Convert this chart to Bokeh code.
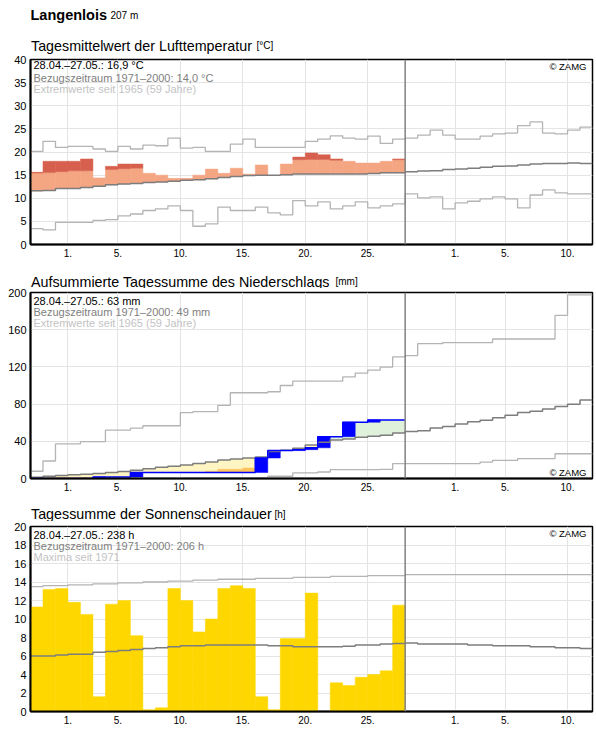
import numpy as np
from bokeh.plotting import figure
from bokeh.layouts import column
from bokeh.models import Range1d, FixedTicker, Span, Label
from bokeh.embed import file_html
from bokeh.resources import INLINE

FONT = "Liberation Sans"
WIDTH = 596
LEFT, RIGHT = 30, 4          # plot borders; frames span x = 30 .. 592

# x axis: day index 0 = 28.04., 30 = 28.05. (start of the open period), 45 = 12.06.
n_days = 45
today = 30
tick_days = [3, 7, 12, 17, 22, 27, 34, 38, 43]
tick_labels = ["1.", "5.", "10.", "15.", "20.", "25.", "1.", "5.", "10."]

# ---- air temperature, daily mean [°C] ----
temp = [15.6, 18.0, 18.0, 18.0, 18.5, 14.4, 16.9, 17.4, 17.4, 15.4,
        15.0, 14.3, 14.3, 15.0, 16.3, 15.4, 16.5, 15.2, 17.2, 15.0,
        17.4, 18.9, 19.8, 19.4, 18.5, 18.0, 17.6, 17.6, 18.0, 18.5]
temp_clim = [11.6, 11.7, 12.1, 12.1, 12.3, 12.6, 12.9, 13.1, 13.2, 13.4,
             13.5, 13.7, 13.9, 14.0, 14.2, 14.5, 14.7, 14.9, 15.0, 15.0,
             15.1, 15.25, 15.25, 15.25, 15.25, 15.25, 15.25, 15.35, 15.5, 15.5,
             15.75, 15.9, 15.95, 16.2, 16.35, 16.5, 16.7, 16.9, 17.0, 17.2,
             17.4, 17.5, 17.5, 17.6, 17.5]
temp_warm = [15.45, 15.55, 15.75, 15.95, 15.95, 16.1, 16.2, 16.4, 16.5, 16.6,
             16.7, 16.8, 16.9, 17.0, 17.2, 17.4, 17.6, 17.8, 18.0, 18.1,
             18.2, 18.35, 18.4, 18.4, 18.2, 18.3, 18.3, 18.3, 18.35, 18.35]
temp_max = [20.15, 22.3, 21.0, 21.2, 21.2, 20.65, 20.15, 21.2, 20.65, 21.5,
            21.35, 23.0, 20.85, 21.0, 20.15, 20.15, 21.7, 22.8, 21.0, 21.0,
            21.0, 21.0, 22.3, 22.8, 23.5, 23.0, 22.8, 23.45, 21.85, 22.8,
            23.0, 23.65, 24.75, 23.65, 22.8, 22.8, 23.45, 23.9, 24.1, 25.7,
            26.5, 24.1, 23.9, 24.75, 25.4]
temp_min = [3.45, 3.15, 4.8, 4.8, 4.8, 5.2, 5.4, 6.2, 6.6, 7.35,
            7.7, 8.35, 7.35, 3.95, 4.45, 8.1, 7.35, 7.35, 8.1, 6.85,
            6.4, 9.5, 8.35, 9.2, 7.7, 8.35, 9.2, 7.9, 8.35, 8.8,
            10.95, 10.1, 10.3, 7.7, 9.0, 9.35, 9.85, 10.3, 9.85, 7.9,
            10.7, 11.8, 11.15, 10.95, 10.95]

# ---- precipitation [mm] ----
precip_daily = [0.0, 0.0, 0.0, 0.0, 0.0, 1.6, 0.0, 0.0, 4.9, 0.0,
                0.0, 0.0, 0.0, 0.0, 0.0, 0.0, 0.0, 0.0, 15.5, 8.0,
                0.0, 1.0, 2.0, 12.0, 0.0, 15.5, 0.0, 2.5, 0.0, 0.0]
precip_clim = [1.4, 2.5, 3.2, 3.9, 4.6, 5.3, 6.4, 7.4, 8.9, 10.5,
               12.0, 13.2, 14.5, 16.0, 17.8, 19.8, 21.0, 22.0, 23.0, 29.0,
               30.5, 32.5, 36.0, 39.0, 41.5, 42.5, 44.3, 45.3, 46.4, 49.0,
               50.5, 51.4, 54.2, 56.0, 58.5, 61.0, 62.7, 65.2, 68.0, 70.9,
               72.3, 74.8, 77.3, 79.8, 84.4]
precip_dry = [0.0, 1.0, 1.0, 1.0, 1.0, 1.2, 1.4, 1.6, 2.5, 3.5,
              4.5, 5.3, 6.0, 6.4, 7.8, 10.0, 10.0, 11.3, 12.5, 14.0,
              15.0, 16.5, 18.5, 20.5, 22.5, 24.0, 25.5, 27.0, 28.5, 30.0]
precip_max = [7.8, 18.8, 37.2, 37.2, 39.7, 39.7, 52.1, 52.1, 54.2, 56.7,
              56.7, 56.7, 70.9, 72.0, 72.0, 78.7, 92.2, 92.2, 92.2, 93.3,
              100.0, 104.6, 104.6, 104.6, 104.6, 109.2, 113.4, 116.5, 119.8, 130.8,
              132.2, 145.0, 145.0, 146.2, 146.2, 146.2, 146.2, 150.0, 150.0, 150.0,
              150.0, 150.0, 175.5, 197.4, 197.4]
precip_min = [0.0, 0.0, 0.0, 0.0, 0.0, 0.0, 0.0, 0.0, 0.0, 0.0,
              0.0, 0.0, 0.3, 0.5, 0.7, 0.7, 0.7, 0.7, 1.0, 2.4,
              2.4, 6.0, 6.0, 7.0, 9.6, 9.6, 9.6, 9.6, 9.9, 16.0,
              16.0, 16.0, 16.0, 16.0, 16.0, 16.0, 17.7, 19.5, 19.5, 21.3,
              21.3, 21.3, 26.6, 26.6, 26.6]

# ---- sunshine duration [h] ----
sun = [11.3, 13.2, 13.3, 11.8, 10.5, 1.6, 11.6, 12.0, 8.2, 0.2,
       0.4, 13.3, 12.0, 8.6, 10.0, 13.3, 13.6, 13.3, 1.6, 0.2,
       7.9, 7.9, 12.8, 0.0, 3.1, 2.8, 3.7, 4.0, 4.4, 11.5]
sun_clim = [6.0, 6.0, 6.1, 6.2, 6.2, 6.4, 6.5, 6.6, 6.7, 6.8,
            6.9, 7.0, 7.1, 7.1, 7.2, 7.2, 7.2, 7.2, 7.2, 7.1,
            7.1, 7.0, 7.0, 7.0, 7.0, 7.05, 7.2, 7.2, 7.3, 7.35,
            7.4, 7.3, 7.3, 7.3, 7.3, 7.2, 7.2, 7.1, 7.1, 7.1,
            7.0, 7.0, 6.9, 6.9, 6.8]
sun_max = [13.5, 13.6, 13.6, 13.7, 13.7, 13.8, 13.8, 13.9, 13.9, 14.0,
           14.0, 14.1, 14.1, 14.2, 14.2, 14.3, 14.3, 14.3, 14.4, 14.4,
           14.4, 14.5, 14.5, 14.5, 14.6, 14.6, 14.6, 14.7, 14.7, 14.7,
           14.8, 14.8, 14.8, 14.8, 14.8, 14.8, 14.8, 14.8, 14.8, 14.8,
           14.8, 14.8, 14.8, 14.8, 14.8]

LIGHT = "#b4b4b4"
DARK = "#7d7d7d"
GRID = "#e4e4e4"
TITLE_SIZE = "14.3px"


def header(height):
    """Strip above a panel carrying its heading; data units are page pixels (y down)."""
    h = figure(width=WIDTH, height=height, title=None,
               x_range=Range1d(LEFT, WIDTH - RIGHT), y_range=Range1d(height, 0),
               x_axis_type=None, y_axis_type=None,
               output_backend="svg", toolbar_location=None,
               min_border_left=LEFT, min_border_right=RIGHT,
               min_border_top=0, min_border_bottom=0)
    h.outline_line_color = None
    h.background_fill_color = "white"
    h.border_fill_color = "white"
    return h


def make_panel(height, border_top, border_bottom, y_end, y_ticks):
    p = figure(width=WIDTH, height=height, title=None,
               x_range=Range1d(0, n_days), y_range=Range1d(0, y_end),
               output_backend="svg", toolbar_location=None,
               min_border_left=LEFT, min_border_right=RIGHT,
               min_border_top=border_top, min_border_bottom=border_bottom)
    p.background_fill_color = "white"
    p.border_fill_color = "white"
    p.outline_line_color = "black"
    p.outline_line_width = 1.5
    p.xaxis.ticker = FixedTicker(ticks=tick_days)
    p.xaxis.major_label_overrides = {d: s for d, s in zip(tick_days, tick_labels)}
    p.yaxis.ticker = FixedTicker(ticks=y_ticks)
    p.xgrid.ticker = FixedTicker(ticks=tick_days)
    p.ygrid.ticker = FixedTicker(ticks=y_ticks)
    for ax in (p.xaxis, p.yaxis):
        ax.axis_line_color = "black"
        ax.axis_line_width = 2
        ax.major_tick_line_color = None
        ax.minor_tick_line_color = None
        ax.major_tick_out = 0
        ax.major_tick_in = 0
        ax.major_label_text_font = FONT
        ax.major_label_text_color = "black"
    p.xaxis.major_label_text_font_size = "10px"
    p.yaxis.major_label_text_font_size = "11px"
    p.xaxis.major_label_standoff = 4
    p.yaxis.major_label_standoff = 4
    p.grid.grid_line_color = GRID
    p.grid.grid_line_width = 1
    return p


def label(p, x, y, s, size="11px", color="black", style="normal", align="left",
          units="screen"):
    p.add_layout(Label(x=x, y=y, x_units=units, y_units=units, text=s,
                       text_font=FONT, text_font_size=size, text_color=color,
                       text_font_style=style, text_align=align,
                       text_baseline="alphabetic"))


def step(p, vals, color, width):
    xs = list(range(len(vals) + 1))
    ys = list(vals) + [vals[-1]]
    p.step(xs, ys, mode="after", line_color=color, line_width=width)


def today_line(p):
    p.add_layout(Span(location=today, dimension="height", line_color="#808080",
                      line_width=1.5))


days = np.arange(len(temp))

# ===== heading + panel 1: temperature =====
h1 = header(54)
label(h1, 30, 14.8, "Langenlois", size="14.5px", style="bold", units="data")
label(h1, 110, 14.8, "207 m", size="10px", units="data")
label(h1, 30.5, 45.2, "Tagesmittelwert der Lufttemperatur", size=TITLE_SIZE, units="data")
label(h1, 256, 45.2, "[°C]", size="10px", units="data")

p1 = make_panel(211, 5, 21, 40, list(range(0, 41, 5)))
t = np.array(temp)
tc = np.array(temp_clim[:len(temp)])
tw = np.array(temp_warm)
above = t > tc
p1.quad(left=days[above], right=days[above] + 1, bottom=tc[above],
        top=np.minimum(t, tw)[above], fill_color="#f4a582",
        line_color="#f4a582", line_width=0.5)
hot = t > tw
p1.quad(left=days[hot], right=days[hot] + 1, bottom=tw[hot], top=t[hot],
        fill_color="#d6604d", line_color="#d6604d", line_width=0.5)
cold = t < tc
p1.quad(left=days[cold], right=days[cold] + 1, bottom=t[cold], top=tc[cold],
        fill_color="#92c5de", line_color="#92c5de", line_width=0.5)
step(p1, temp_max, LIGHT, 1.3)
step(p1, temp_min, LIGHT, 1.3)
step(p1, temp_clim, DARK, 1.5)
today_line(p1)

label(p1, 3, 179.2, "28.04.–27.05.: 16,9 °C")
label(p1, 3, 166.5, "Bezugszeitraum 1971–2000: 14,0 °C", color="#808080")
label(p1, 3, 155.2, "Extremwerte seit 1965 (59 Jahre)", color="#c3c3c3")
label(p1, 556, 178, "© ZAMG", size="9.5px", align="right")

# ===== panel 2: accumulated precipitation =====
h2 = header(23)
label(h2, 30.5, 16, "Aufsummierte Tagessumme des Niederschlags", size=TITLE_SIZE, units="data")
label(h2, 335, 16, "[mm]", size="10px", units="data")

p2 = make_panel(211, 4, 21, 200, list(range(0, 201, 40)))
pd_ = np.array(precip_daily)
cum = np.cumsum(pd_)
start = cum - pd_
pc = np.array(precip_clim[:len(precip_daily)])
dry = np.array(precip_dry)
wet = cum > pc
p2.quad(left=days[wet], right=days[wet] + 1, bottom=pc[wet], top=cum[wet],
        fill_color="#dff1da", line_color="#dff1da", line_width=0.5)
short = cum < pc
ybot = np.maximum(cum, dry)
sel = short & (ybot < pc)
p2.quad(left=days[sel], right=days[sel] + 1, bottom=ybot[sel], top=pc[sel],
        fill_color="#fff5c2", line_color="#fff5c2", line_width=0.5)
very = cum < dry
p2.quad(left=days[very], right=days[very] + 1, bottom=cum[very],
        top=np.minimum(dry, pc)[very], fill_color="#fdc35d",
        line_color="#fdc35d", line_width=0.5)
rain = pd_ > 0
p2.quad(left=days[rain], right=days[rain] + 1, bottom=start[rain], top=cum[rain],
        fill_color="#0000ff", line_color="#0000ff", line_width=0.5)
step(p2, precip_max, LIGHT, 1.3)
step(p2, precip_min, LIGHT, 1.3)
step(p2, precip_clim, DARK, 1.5)
step(p2, list(cum), "#0000ff", 1.5)
today_line(p2)

label(p2, 3, 177.8, "28.04.–27.05.: 63 mm")
label(p2, 3, 166.5, "Bezugszeitraum 1971–2000: 49 mm", color="#808080")
label(p2, 3, 155.5, "Extremwerte seit 1965 (59 Jahre)", color="#c3c3c3")
label(p2, 556, 5.8, "© ZAMG", size="9.5px", align="right")

# ===== panel 3: sunshine duration =====
h3 = header(22)
label(h3, 30.5, 14.8, "Tagessumme der Sonnenscheindauer", size=TITLE_SIZE, units="data")
label(h3, 274, 14.8, "[h]", size="10px", units="data")

p3 = make_panel(208, 5, 18, 20, list(range(0, 21, 2)))
s = np.array(sun)
p3.quad(left=days, right=days + 1, bottom=0, top=s,
        fill_color="#ffd700", line_color="#ffd700", line_width=0.5)
step(p3, sun_max, LIGHT, 1.3)
step(p3, sun_clim, DARK, 1.5)
today_line(p3)

label(p3, 3, 176.2, "28.04.–27.05.: 238 h")
label(p3, 3, 165.2, "Bezugszeitraum 1971–2000: 206 h", color="#808080")
label(p3, 3, 154.5, "Maxima seit 1971", color="#c3c3c3")
label(p3, 556, 177.8, "© ZAMG", size="9.5px", align="right")

layout = column(h1, p1, h2, p2, h3, p3, spacing=0)
open("out.html", "w").write(file_html(layout, INLINE))
